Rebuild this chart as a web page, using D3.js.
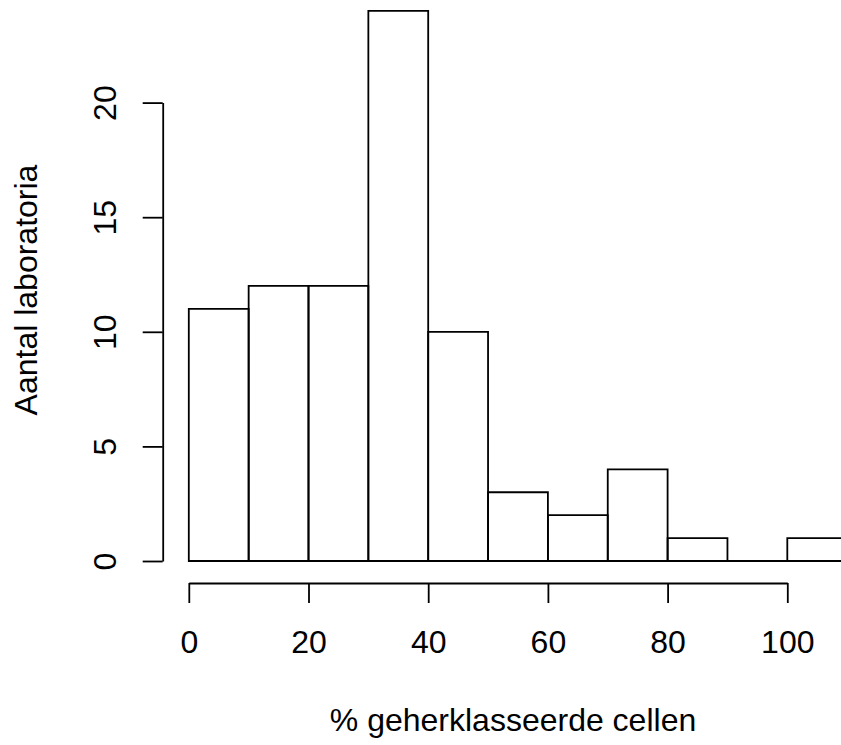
<!DOCTYPE html>
<html>
<head>
<meta charset="utf-8">
<script src="https://cdn.jsdelivr.net/npm/d3@7"></script>
<style>
  html, body { margin: 0; padding: 0; background: #fff; }
  svg { display: block; }
  text { font-family: "Liberation Sans", Arial, Helvetica, sans-serif; fill: #000; }
</style>
</head>
<body>
<svg id="chart" width="841" height="745"></svg>
<script>
// Histogram data: bin edges and counts
const binStarts = [0, 10, 20, 30, 40, 50, 60, 70, 80, 90, 100];
const binWidth = 10;
const counts = [11, 12, 12, 24, 10, 3, 2, 4, 1, 0, 1];
const xTicks = [0, 20, 40, 60, 80, 100];
const yTicks = [0, 5, 10, 15, 20];
const xLabel = "% geherklasseerde cellen";
const yLabel = "Aantal laboratoria";

const svg = d3.select("#chart");
const x = d3.scaleLinear().domain([0, 100]).range([188.8, 787.3]);
const y = d3.scaleLinear().domain([0, 20]).range([561, 102.6]);
const sw = 1.8;

// bars (drawn as closed paths so that zero-height bins still show a line)
svg.append("g").selectAll("path")
  .data(binStarts.map((s, i) => ({ s, e: s + binWidth, c: counts[i] })))
  .join("path")
  .attr("d", d => {
    const x0 = x(d.s), x1 = x(d.e), y0 = y(0), y1 = y(d.c);
    return `M${x0},${y0}L${x0},${y1}L${x1},${y1}L${x1},${y0}Z`;
  })
  .attr("fill", "none")
  .attr("stroke", "#000")
  .attr("stroke-width", sw);

// x axis
const xAxisY = 583;
const gx = svg.append("g")
  .attr("transform", `translate(0,${xAxisY})`)
  .call(d3.axisBottom(x).tickValues(xTicks).tickSize(20).tickSizeOuter(0).tickPadding(27).tickFormat(d3.format("d")));
gx.selectAll("path, line").attr("stroke", "#000").attr("stroke-width", sw);
gx.selectAll("text").style("font-size", "32px").attr("fill", "#000")
  .style("font-family", '"Liberation Sans", Arial, Helvetica, sans-serif');

// y axis
const yAxisX = 162.7;
const gy = svg.append("g")
  .attr("transform", `translate(${yAxisX},0)`)
  .call(d3.axisLeft(y).tickValues(yTicks).tickSize(20).tickSizeOuter(0).tickFormat(d3.format("d")));
gy.selectAll("path, line").attr("stroke", "#000").attr("stroke-width", sw);
gy.selectAll("text")
  .attr("x", null).attr("dy", null)
  .attr("text-anchor", "middle")
  .attr("transform", `translate(${116 - yAxisX},0) rotate(-90)`)
  .style("font-size", "32px").attr("fill", "#000")
  .style("font-family", '"Liberation Sans", Arial, Helvetica, sans-serif');

// axis titles
svg.append("text")
  .attr("x", 513).attr("y", 731)
  .attr("text-anchor", "middle")
  .style("font-size", "32px")
  .text(xLabel);

svg.append("text")
  .attr("transform", "translate(37,290) rotate(-90)")
  .attr("text-anchor", "middle")
  .style("font-size", "32px")
  .text(yLabel);
</script>
</body>
</html>
